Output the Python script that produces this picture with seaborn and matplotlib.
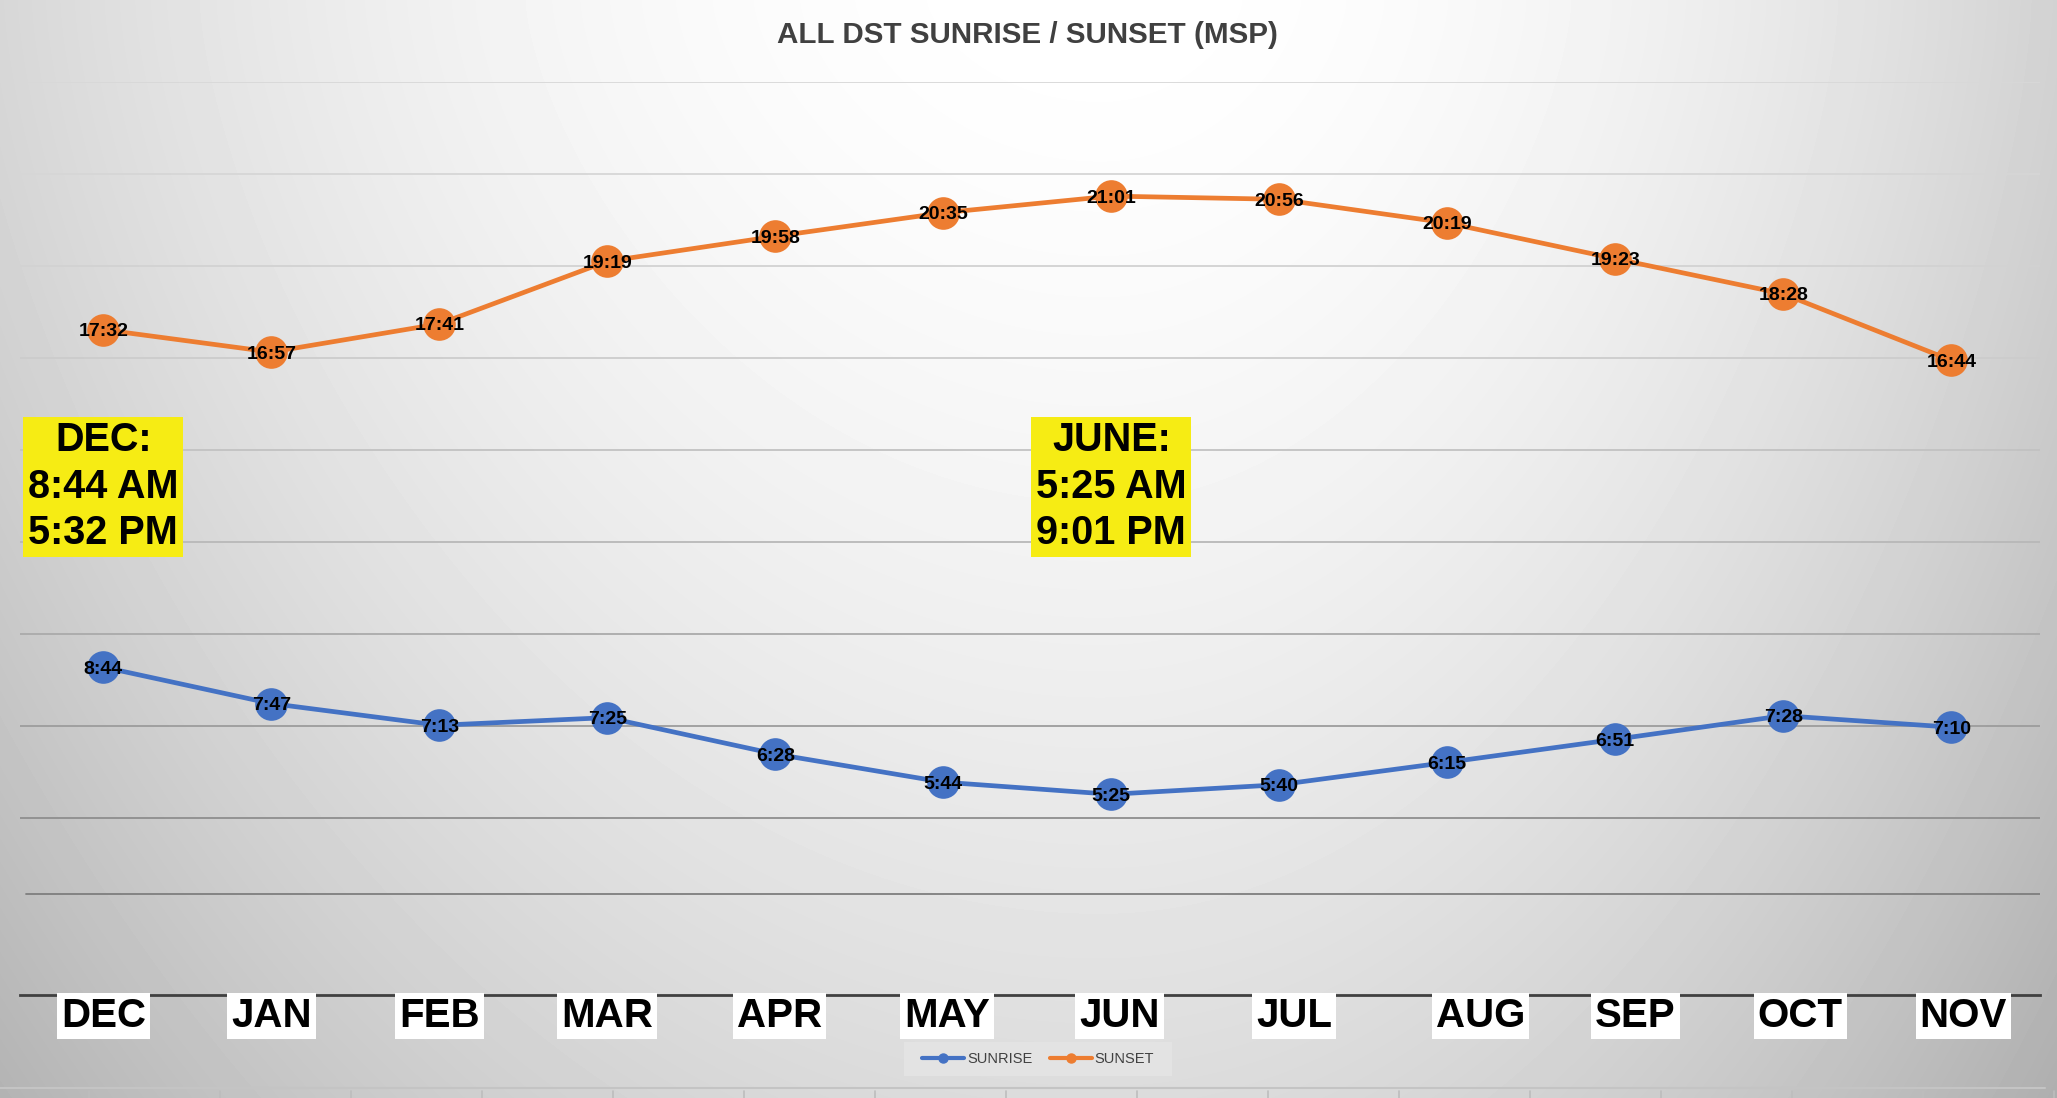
import numpy as np
import pandas as pd
import matplotlib
matplotlib.use("Agg")
import matplotlib.pyplot as plt
import seaborn as sns
from matplotlib.lines import Line2D
from matplotlib.patches import Rectangle

# ---------------- data ----------------
months = ["DEC", "JAN", "FEB", "MAR", "APR", "MAY", "JUN", "JUL", "AUG", "SEP", "OCT", "NOV"]
sunrise = ["8:44", "7:47", "7:13", "7:25", "6:28", "5:44", "5:25", "5:40", "6:15", "6:51", "7:28", "7:10"]
sunset = ["17:32", "16:57", "17:41", "19:19", "19:58", "20:35", "21:01", "20:56", "20:19", "19:23", "18:28", "16:44"]
series_names = ["SUNRISE", "SUNSET"]
title = "ALL DST SUNRISE / SUNSET (MSP)"
callout_months = ["DEC", "JUN"]
callout_texts = ["DEC:\n8:44 AM\n5:32 PM", "JUNE:\n5:25 AM\n9:01 PM"]


def to_minutes(s):
    h, m = s.split(":")
    return int(h) * 60 + int(m)


df = pd.DataFrame({
    "month": months * 2,
    "pos": list(range(len(months))) * 2,
    "minutes": [to_minutes(s) for s in sunrise + sunset],
    "label": sunrise + sunset,
    "series": [series_names[0]] * len(months) + [series_names[1]] * len(months),
})

# ---------------- style ----------------
W, H = 2057, 1098
sns.set_style("white")
plt.rcParams["font.family"] = ["Liberation Sans", "DejaVu Sans"]

colors = {"SUNRISE": "#4472C4", "SUNSET": "#ED7D31"}

fig = plt.figure(figsize=(W / 100, H / 100), dpi=100)

# background radial-ish gradient
yy, xx = np.mgrid[0:H, 0:W].astype(float)
fx = np.where(xx < 1100, 0.13 * ((1100 - xx) / 1000) ** 2, 0.14 * ((xx - 1100) / 850) ** 2)
gy = 0.13 * (yy / 1050) ** 1.5
bg = np.clip(1 - fx - gy, 0, 1)
bg_ax = fig.add_axes([0, 0, 1, 1], zorder=-10)
bg_ax.imshow(bg, cmap="gray", vmin=0, vmax=1, aspect="auto", interpolation="bilinear")
bg_ax.set_axis_off()

# main axes
ax = fig.add_axes([20 / W, 1 - 995 / H, 2020 / W, (995 - 81.7) / H], zorder=1)
ax.patch.set_alpha(0)
ymin = (1002 - 995) / 920 * 1440
ax.set_ylim(ymin, 1440)
ax.set_xlim(-0.496, 11.528)

grid_cols = {2: "#8e8e8e", 3: "#9c9c9c", 4: "#aaaaaa", 5: "#b8b8b8", 6: "#c2c2c2",
             7: "#cccccc", 8: "#d2d2d2", 9: "#d6d6d6", 10: "#d8d8d8"}
for k, c in grid_cols.items():
    ax.axhline(k * 144, color=c, lw=1.3, zorder=1)
ax.axhline((1002 - 894) / 920 * 1440, xmin=0.003, color="#7e7e7e", lw=1.3, zorder=1)

sns.lineplot(data=df, x="pos", y="minutes", hue="series", palette=colors,
             marker="o", markersize=23.5, markeredgewidth=0, linewidth=3.4,
             legend=False, ax=ax, zorder=3, sort=True)

for _, r in df.iterrows():
    ax.annotate(r["label"], xy=(r["pos"], r["minutes"]), xytext=(0, -2),
                textcoords="offset pixels", ha="center", va="center",
                fontsize=14, fontweight="bold", color="black", zorder=5)

ax.set_xticks([])
ax.set_yticks([])
ax.set_xlabel("")
ax.set_ylabel("")
for s in ["left", "right", "top"]:
    ax.spines[s].set_visible(False)
ax.spines["bottom"].set_color("#404040")
ax.spines["bottom"].set_linewidth(2.0)
ax.spines["bottom"].set_zorder(2)

# month labels in white boxes
label_nudge = [0, 0, 0, 0, 4, 4, 8, 15, 33, 20, 17, 12]
for i, m in enumerate(months):
    ax.annotate(m, xy=(i, 0), xycoords=("data", "axes fraction"),
                xytext=(label_nudge[i], -21), textcoords="offset pixels",
                ha="center", va="center", fontsize=29, fontweight="bold", color="black",
                bbox=dict(boxstyle="square,pad=0.1", fc="white", ec="none"),
                zorder=6, annotation_clip=False)

# yellow callouts
for m, t in zip(callout_months, callout_texts):
    ax.text(months.index(m), 806, t, ha="center", va="center", fontsize=28.5,
            fontweight="bold", color="black", linespacing=1.28, zorder=6,
            bbox=dict(boxstyle="square,pad=0.12", fc="#f6ec14", ec="none"))

# title
fig.text(1027 / W, 1 - 35 / H, title, ha="center", va="center", fontsize=21.3,
         fontweight="bold", color="#404040")

# legend
handles = [Line2D([], [], color=colors[n], lw=3, marker="o", ms=6.5) for n in series_names]
leg = fig.legend(handles, series_names, loc="center", bbox_to_anchor=(1038 / W, 1 - 1059 / H),
                 ncol=2, frameon=False, fontsize=10.5, handlelength=2.9, handletextpad=0.2,
                 columnspacing=1.2, labelcolor="#404040")
fig.canvas.draw()
ext = leg.get_window_extent()
x0 = (ext.x0 - 12) / W
x1 = (ext.x1 + 12) / W
yc = 1 - 1059 / H
fig.add_artist(Rectangle((x0, yc - 17 / H), x1 - x0, 34 / H, transform=fig.transFigure,
                         fc="#e3e3e3", ec="none", zorder=-5))

# bottom sheet strip
fig.add_artist(Line2D([0, 2045 / W], [1 - 1088 / H] * 2, transform=fig.transFigure,
                      color="#c4c4c4", lw=1.5))
for k in range(16):
    xp = (89 + 131 * k) / W
    fig.add_artist(Line2D([xp, xp], [0, 1 - 1091 / H], transform=fig.transFigure,
                          color="#bdbdbd", lw=1.2))

fig.savefig("out.png", dpi=100)
